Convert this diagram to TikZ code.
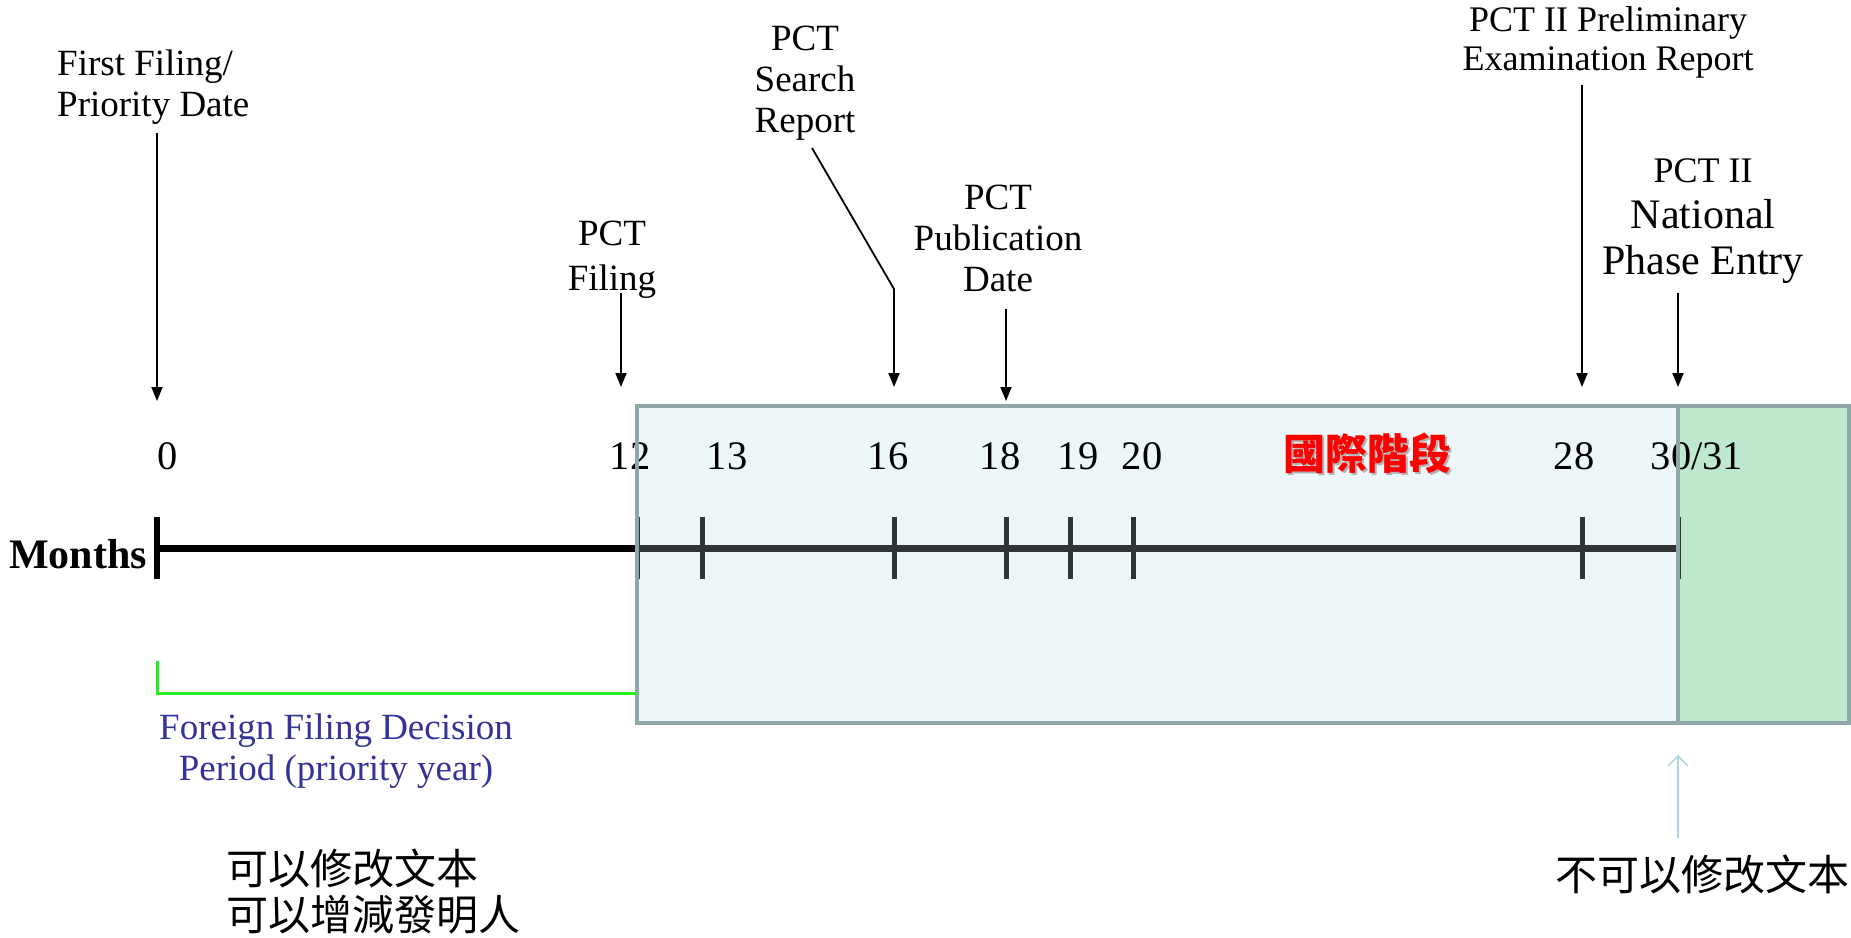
\documentclass[tikz,border=0pt]{standalone}
\usepackage{fontspec}
\setmainfont{Liberation Serif}
\newfontfamily\cjk{Noto Sans CJK TC}
\usetikzlibrary{arrows.meta}
\definecolor{boxedge}{HTML}{8FA7A9}
\definecolor{intlfill}{HTML}{EDF6F8}
\definecolor{natfill}{HTML}{BFE9CE}
\definecolor{periodblue}{HTML}{333399}
\definecolor{bracketgreen}{HTML}{22EE22}
\definecolor{hintblue}{HTML}{A9D6DB}
\definecolor{axisgray}{HTML}{303435}
\tikzset{
  x=1pt, y=-1pt,
  lbl/.style={inner sep=0pt, align=center, font=\fontsize{37}{41}\selectfont},
  num/.style={inner sep=0pt, anchor=base, font=\fontsize{40.5}{44}\selectfont},
  callout/.style={line width=1.8pt, -{Triangle[length=14pt,width=11pt]}},
  tickmark/.style={line width=5pt},
  cjktext/.style={inner sep=0pt, align=left, font=\cjk\fontsize{42}{46}\selectfont},
}
\begin{document}
\begin{tikzpicture}
\useasboundingbox (0,0) rectangle (1851,937);

% phase areas
\fill[intlfill] (637,406) rectangle (1678,723);
\fill[natfill] (1678,406) rectangle (1849,723);

% month axis
\coordinate (m0) at (157,548);
\coordinate (m12) at (637,548);
\coordinate (m13) at (702,548);
\coordinate (m16) at (894,548);
\coordinate (m18) at (1006,548);
\coordinate (m19) at (1070,548);
\coordinate (m20) at (1133,548);
\coordinate (m28) at (1582,548);
\coordinate (m30) at (1678,548);
\draw[line width=7pt] (m0) -- (m12);
\draw[line width=7pt, axisgray] (m12) -- (m30);
\draw[tickmark, line width=6pt] ([yshift=-31]m0) -- ([yshift=31]m0);
\foreach \m in {m12,m13,m16,m18,m19,m20,m28,m30}
  \draw[tickmark, axisgray] ([yshift=-31]\m) -- ([yshift=31]\m);

% month numbers
\node[num] (n0) at (168,469) {0};
\node[num] (n12) at (630,469) {12};
\node[num] (n13) at (727,469) {13};
\node[num] (n16) at (888,469) {16};
\node[num] (n18) at (1000,469) {18};
\node[num] (n19) at (1078,469) {19};
\node[num] (n20) at (1142,469) {20};
\node[num] (n28) at (1574,469) {28};
\node[num] (n30) at (1697,469) {30/31};

\node[inner sep=0pt, anchor=east, font=\bfseries\fontsize{42}{46}\selectfont] (months) at (147,554) {Months};

% phase borders
\draw[boxedge, line width=4pt] (637,406) rectangle (1849,723);
\draw[boxedge, line width=4pt] (1678,406) -- (1678,723);

% phase title
\node[inner sep=0pt, font=\cjk\bfseries\fontsize{42}{46}\selectfont, text=black!30] at (1369,455) {國際階段};
\node[inner sep=0pt, font=\cjk\bfseries\fontsize{42}{46}\selectfont, text=red] (intl) at (1367,453) {國際階段};

% event callouts
\node[lbl, align=left, anchor=west] (first) at (57,87) {First Filing/\\Priority Date};
\coordinate (firstend) at (157,401);
\draw[callout] (157,133) -- (firstend);

\node[lbl, font=\fontsize{37}{45}\selectfont] (filing) at (612,260) {PCT\\Filing};
\coordinate (filingend) at (621,387);
\draw[callout] (621,293) -- (filingend);

\node[lbl] (search) at (805,83) {PCT\\Search\\Report};
\coordinate (searchbend) at (894,289);
\coordinate (searchend) at (894,387);
\draw[callout] (812,148) -- (searchbend) -- (searchend);

\node[lbl] (pub) at (998,238) {PCT\\Publication\\Date};
\coordinate (pubend) at (1006,401);
\draw[callout] (1006,309) -- (pubend);

\node[lbl, font=\fontsize{36}{39}\selectfont] (iper) at (1608,42) {PCT II Preliminary\\Examination Report};
\coordinate (iperend) at (1582,387);
\draw[callout] (1582,85) -- (iperend);

\node[lbl, font=\fontsize{42}{46}\selectfont] (entry) at (1703,221) {{\fontsize{36}{39}\selectfont PCT II}\\National\\Phase Entry};
\coordinate (entryend) at (1678,387);
\draw[callout] (1678,293) -- (entryend);

% priority year bracket
\draw[bracketgreen, line width=3pt] (157,661) -- (157,693) -- (637,693);
\node[lbl, text=periodblue] (period) at (336,751) {Foreign Filing Decision\\Period (priority year)};

% amendment notes
\node[cjktext, anchor=west] (canamend) at (226,892) {可以修改文本\\可以增減發明人};
\node[cjktext] (noamend) at (1702,874) {不可以修改文本};
\draw[hintblue, line width=1.5pt, -{Straight Barb[length=10pt,width=20pt]}] (1678,838) -- (1678,755);
\end{tikzpicture}
\end{document}
